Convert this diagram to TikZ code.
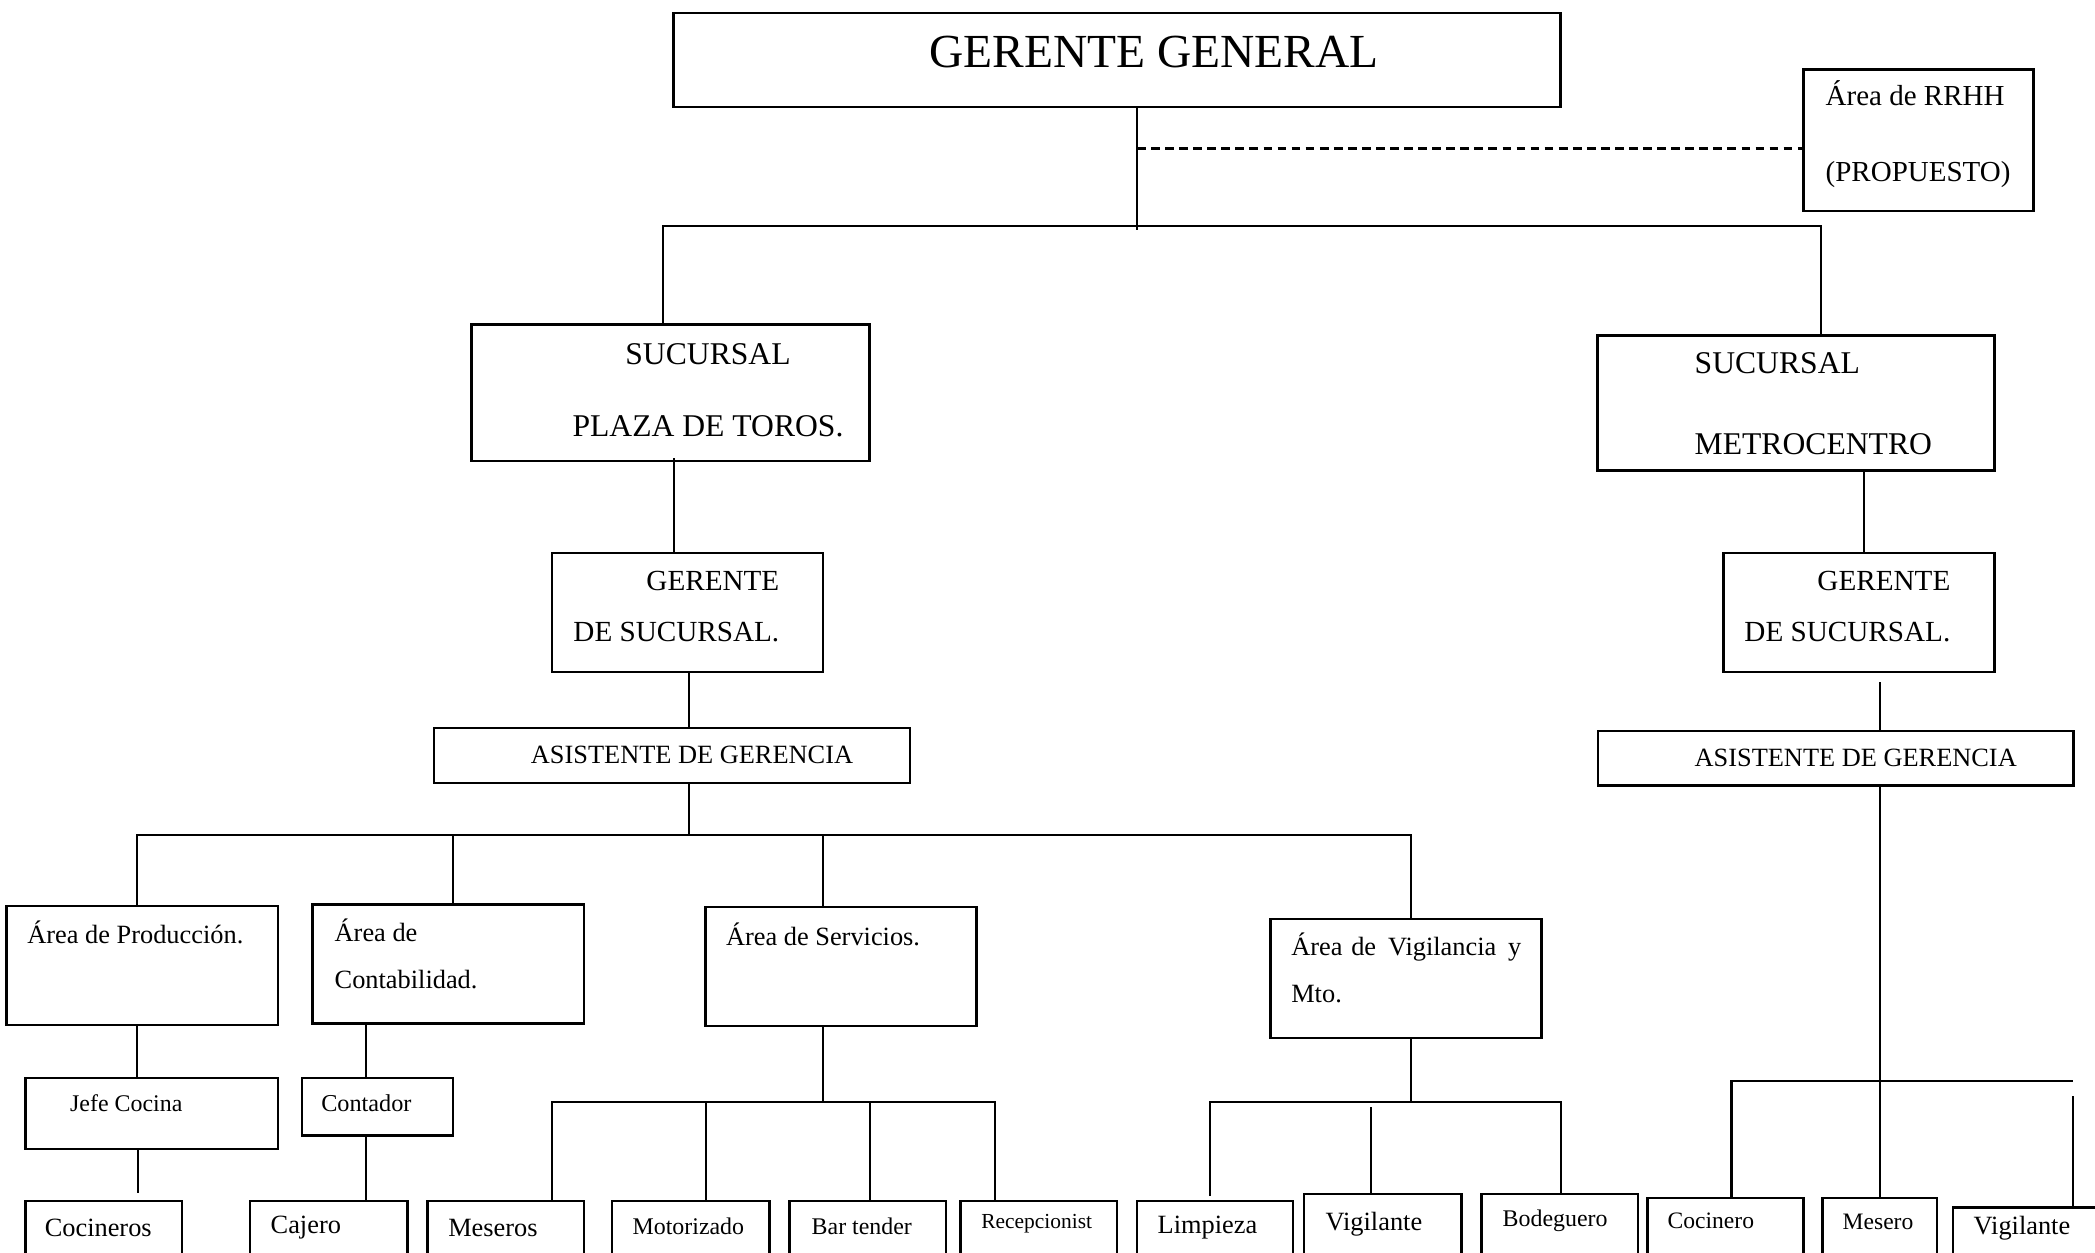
\documentclass[tikz,border=0pt]{standalone}
\usepackage{fontspec}
\setmainfont{Liberation Serif}
\begin{document}
\begin{tikzpicture}[
  box/.style={draw, line width=0.7pt, inner sep=0pt},
  area/.style={box, minimum width=2.712cm, minimum height=1.189cm},
  low/.style={box, anchor=north, minimum height=0.9cm},
  txt/.style={inner sep=0pt, anchor=west, font=\fontsize{#1}{#1}\selectfont},
  txt/.default=7.5,
  link/.style={line width=0.6pt},
  proposed/.style={line width=0.8pt, dash pattern=on 2.5pt off 1.5pt},
]
  \useasboundingbox (0,0) rectangle (20.95,-12.53);
  \clip (0,0) rectangle (20.95,-12.53);
  \fill[white] (0,0) rectangle (20.95,-12.53);

  % General management and proposed HR area.
  \node[box, minimum width=8.87cm, minimum height=0.935cm] (gg) at (11.17,-0.60) {};
  \node[txt=13.5, anchor=center] (gg-txt) at (11.54,-0.52) {GERENTE GENERAL};
  \node[box, minimum width=2.30cm, minimum height=1.416cm] (rrhh) at (19.185,-1.403) {};
  \node[txt, align=left, font=\fontsize{8.25}{21.6}\selectfont] (rrhh-txt) at (18.25,-1.343)
    {Área de RRHH\\(PROPUESTO)};

  % Branches.
  \node[box, minimum width=3.98cm, minimum height=1.363cm] (plaza) at (6.707,-3.928) {};
  \node[txt, anchor=center, align=center, font=\fontsize{9}{20.5}\selectfont] (plaza-txt)
    at (7.08,-3.90) {SUCURSAL\\PLAZA DE TOROS.};
  \node[box, minimum width=3.967cm, minimum height=1.35cm] (metro) at (17.96,-4.028) {};
  \node[txt, align=left, font=\fontsize{9}{23.1}\selectfont] (metro-txt)
    at (16.94,-4.04) {SUCURSAL\\METROCENTRO};

  % Branch managers and assistants.
  \node[area] (gte-plaza) at (6.874,-6.126) {};
  \node[txt, anchor=east, align=right, font=\fontsize{8.3}{14.4}\selectfont] (gte-plaza-txt)
    at (7.80,-6.065) {GERENTE\\DE SUCURSAL.};
  \node[area] (gte-metro) at (18.59,-6.126) {};
  \node[txt, anchor=east, align=right, font=\fontsize{8.3}{14.4}\selectfont] (gte-metro-txt)
    at (19.51,-6.065) {GERENTE\\DE SUCURSAL.};
  \node[box, minimum width=4.756cm, minimum height=0.548cm] (asis-plaza) at (6.72,-7.555) {};
  \node[txt, anchor=center] (asis-plaza-txt) at (6.92,-7.548) {ASISTENTE DE GERENCIA};
  \node[box, minimum width=4.756cm, minimum height=0.548cm] (asis-metro) at (18.357,-7.582) {};
  \node[txt, anchor=center] (asis-metro-txt) at (18.557,-7.575) {ASISTENTE DE GERENCIA};

  % Areas of the Plaza de Toros branch.
  \node[area] (prod) at (1.423,-9.653) {};
  \node[txt] (prod-txt) at (0.267,-9.325) {Área de Producción.};
  \node[area] (cont) at (4.482,-9.64) {};
  \node[txt, align=left, font=\fontsize{7.5}{13.3}\selectfont] (cont-txt) at (3.34,-9.535)
    {Área de\\Contabilidad.};
  \node[area] (serv) at (8.41,-9.666) {};
  \node[txt] (serv-txt) at (7.254,-9.34) {Área de Servicios.};
  \node[area] (vig) at (14.061,-9.787) {};
  \node[txt, align=left, text width=2.3cm, font=\fontsize{7.5}{13.2}\selectfont] (vig-txt)
    at (12.906,-9.68) {Área de\hfill Vigilancia\hfill y\\Mto.};

  \node[box, minimum width=2.525cm, minimum height=0.708cm] (jefe) at (1.517,-11.136) {};
  \node[txt=6.8] (jefe-txt) at (0.695,-11.035) {Jefe Cocina};
  \node[box, minimum width=1.51cm, minimum height=0.574cm] (contador) at (3.774,-11.069) {};
  \node[txt=6.9] (contador-txt) at (3.206,-11.035) {Contador};

  % Staff, bottom row.
  \node[low, minimum width=1.563cm] (cocineros) at (1.036,-12.0) {};
  \node[txt] at (0.441,-12.28) (cocineros-txt) {Cocineros};
  \node[low, minimum width=1.577cm] (cajero) at (3.287,-12.0) {};
  \node[txt] at (2.70,-12.28) (cajero-txt) {Cajero};
  \node[low, minimum width=1.563cm] (meseros) at (5.057,-12.0) {};
  \node[txt] at (4.476,-12.28) (meseros-txt) {Meseros};
  \node[low, minimum width=1.576cm] (motorizado) at (6.907,-12.0) {};
  \node[txt=6.8] at (6.319,-12.26) (motorizado-txt) {Motorizado};
  \node[low, minimum width=1.563cm] (bartender) at (8.678,-12.0) {};
  \node[txt=6.8] at (8.11,-12.26) (bartender-txt) {Bar tender};
  \node[low, minimum width=1.563cm] (recep) at (10.388,-12.0) {};
  \node[txt=6.1] at (9.806,-12.24) (recep-txt) {Recepcionist};
  \node[low, minimum width=1.563cm] (limpieza) at (12.15,-12.0) {};
  \node[txt] at (11.57,-12.28) (limpieza-txt) {Limpieza};
  \node[low, minimum width=1.577cm] (vigilante) at (13.828,-11.93) {};
  \node[txt] at (13.25,-12.24) (vigilante-txt) {Vigilante};
  \node[low, minimum width=1.563cm] (bodeguero) at (15.598,-11.93) {};
  \node[txt=6.8] at (15.02,-12.21) (bodeguero-txt) {Bodeguero};
  \node[low, minimum width=1.563cm] (cocinero) at (17.255,-11.97) {};
  \node[txt=6.7] at (16.67,-12.21) (cocinero-txt) {Cocinero};
  \node[low, minimum width=1.149cm] (mesero) at (18.798,-11.97) {};
  \node[txt=6.7] at (18.42,-12.22) (mesero-txt) {Mesero};
  \node[low, minimum width=1.6cm] (vig-metro) at (20.332,-12.064) {};
  \node[txt] at (19.73,-12.28) (vig-metro-txt) {Vigilante};

  % Top connectors.
  \coordinate (hub) at (11.37,-2.258);
  \coordinate (dash) at (11.37,-1.483);
  \draw[link] (gg.south -| hub) -- ([yshift=-0.4mm]hub);
  \draw[proposed] (dash) -- (dash -| rrhh.west);
  \draw[link] ([xshift=-0.8mm]plaza.north) |- (hub) -| ([xshift=2.5mm]metro.north);

  % Plaza de Toros chain.
  \draw[link] ([xshift=0.3mm,yshift=0.4mm]plaza.south) -- ([xshift=0.3mm]plaza.south |- gte-plaza.north);
  \draw[link] ([xshift=0.2mm]gte-plaza.south) -- ([xshift=0.2mm]gte-plaza.south |- asis-plaza.north);
  \coordinate (split-plaza) at (6.894,-8.35);
  \draw[link] (asis-plaza.south -| split-plaza) -- (split-plaza);
  \draw[link] ([xshift=-0.5mm]prod.north) |- (split-plaza) -| ([xshift=0.5mm]vig.north);
  \draw[link] ([xshift=0.5mm]cont.north) -- ([xshift=0.5mm]cont.north |- split-plaza);
  \draw[link] ([xshift=-1.8mm]serv.north) -- ([xshift=-1.8mm]serv.north |- split-plaza);

  \draw[link] ([xshift=-0.5mm]prod.south) -- ([xshift=-0.5mm]prod.south |- jefe.north);
  \draw[link] ([xshift=-1.4mm]jefe.south) -- ([xshift=-1.4mm,yshift=0.7mm]jefe.south |- cocineros.north);
  \draw[link] ([xshift=-1.1mm]contador.north |- cont.south) -- ([xshift=-1.1mm]contador.north);
  \draw[link] ([xshift=-1.1mm]contador.south) -- ([xshift=-1.1mm]contador.south |- cajero.north);

  \coordinate (split-serv) at (8.23,-11.022);
  \draw[link] (serv.south -| split-serv) -- (split-serv);
  \draw[link] ([xshift=4.6mm]meseros.north) |- (split-serv) -| ([xshift=-4.35mm]recep.north);
  \draw[link] ([xshift=1.5mm]motorizado.north) -- ([xshift=1.5mm]motorizado.north |- split-serv);
  \draw[link] ([xshift=0.2mm]bartender.north) -- ([xshift=0.2mm]bartender.north |- split-serv);

  \coordinate (split-vig) at (14.108,-11.022);
  \draw[link] (vig.south -| split-vig) -- (split-vig);
  \draw[link] ([xshift=-0.5mm,yshift=0.4mm]limpieza.north) |- (split-vig) -| ([xshift=0.1mm]bodeguero.north);
  \draw[link] ([xshift=-1.2mm]vigilante.north) -- ([xshift=-1.2mm,yshift=-0.5mm]vigilante.north |- split-vig);

  % Metrocentro chain.
  \draw[link] ([xshift=0.5mm]gte-metro.north |- metro.south) -- ([xshift=0.5mm]gte-metro.north);
  \draw[link] ([xshift=2.1mm,yshift=-0.9mm]gte-metro.south) -- ([xshift=2.1mm]gte-metro.south |- asis-metro.north);
  \draw[link] (asis-metro.south -| mesero.north) -- (mesero.north);
  \coordinate (split-metro) at (18.8,-10.808);
  \draw[link] ([xshift=0.6mm]cocinero.north) |- ([xshift=4mm]vig-metro.north |- split-metro);
  \draw[link] ([xshift=4mm]vig-metro.north) -- ([xshift=4mm,yshift=-1.5mm]vig-metro.north |- split-metro);
\end{tikzpicture}
\end{document}
